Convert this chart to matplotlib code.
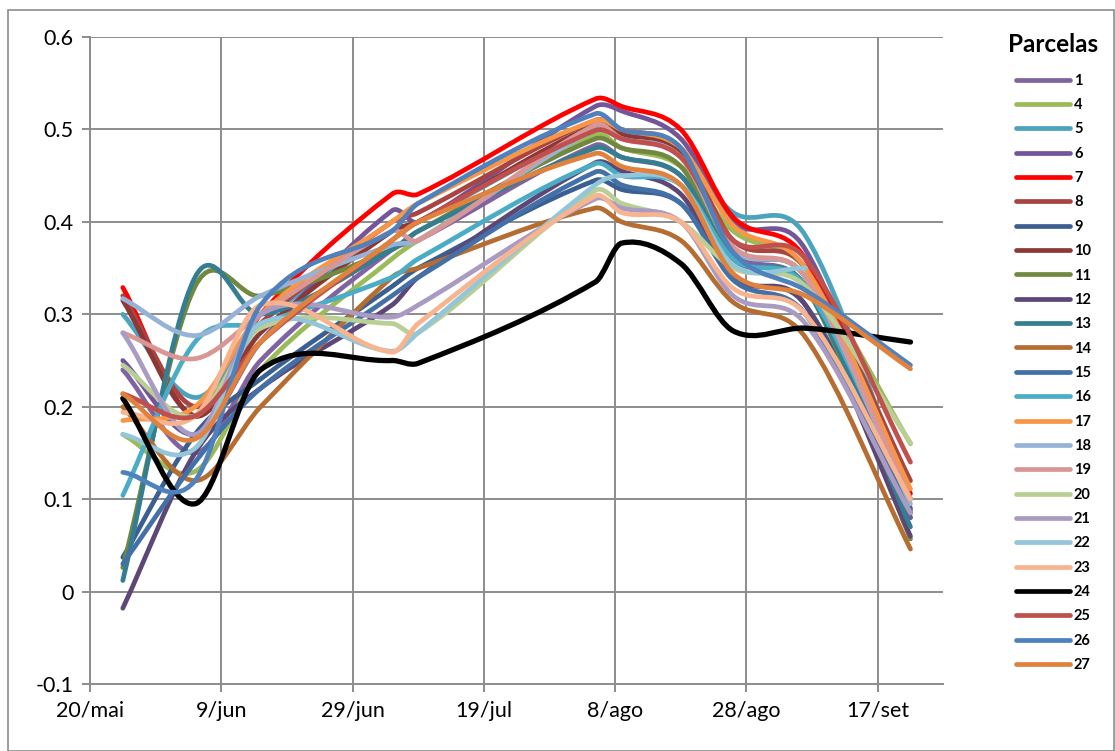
import numpy as np
import matplotlib
matplotlib.use('Agg')
import matplotlib.pyplot as plt
from matplotlib.path import Path
from matplotlib.patches import PathPatch, Rectangle
from matplotlib.lines import Line2D

plt.rcParams['font.family'] = ['Lato', 'DejaVu Sans']

# sample dates, as days after 20/mai
dates = ['25/mai', '5/jun', '15/jun', '5/jul', '9/jul', '5/ago', '9/ago',
         '18/ago', '26/ago', '6/set', '22/set']
days = [5, 16, 26, 46, 50, 77, 81, 90, 98, 109, 125]

tick_days = [0, 20, 40, 60, 80, 100, 120]
tick_labels = ['20/mai', '9/jun', '29/jun', '19/jul', '8/ago', '28/ago', '17/set']

parcelas = ['1', '4', '5', '6', '7', '8', '9', '10', '11', '12', '13', '14', '15',
            '16', '17', '18', '19', '20', '21', '22', '23', '24', '25', '26', '27']

colors = ['#8064A2', '#9BBB59', '#4BA3BE', '#73569A', '#FF0000', '#A84442',
          '#3C5F91', '#8C3836', '#71893F', '#5C4776', '#357D91', '#B66D31',
          '#4470A8', '#4BACC6', '#F79646', '#95B3D7', '#D99694', '#B9CF94',
          '#A99BC2', '#93C6D8', '#F8B48E', '#000000', '#C0504D', '#4F81BD',
          '#E0823D']

nan = np.nan
p1 = [0.240, 0.150, 0.250, 0.370, 0.380, 0.483, 0.470, 0.450, 0.365, 0.330, 0.080]
p4 = [0.170, 0.130, 0.240, 0.360, 0.380, 0.495, 0.480, 0.460, 0.390, 0.350, 0.160]
p5 = [0.300, 0.210, 0.290, 0.390, 0.400, 0.500, 0.490, 0.475, 0.410, 0.385, 0.100]
p6 = [0.250, 0.170, 0.270, 0.412, 0.400, 0.525, 0.520, 0.490, 0.400, 0.370, 0.080]
p7 = [0.329, 0.190, 0.300, 0.430, 0.430, 0.533, 0.525, 0.500, 0.405, 0.360, 0.106]
p8 = [0.320, 0.200, 0.290, 0.400, 0.410, 0.510, 0.500, 0.480, 0.380, 0.350, 0.120]
p9 = [0.037, 0.170, 0.230, 0.330, 0.350, 0.445, 0.435, 0.420, 0.340, 0.310, 0.085]
p10 = [0.315, 0.190, 0.280, 0.390, 0.400, 0.505, 0.495, 0.475, 0.370, 0.340, 0.090]
p11 = [0.026, 0.330, 0.320, 0.370, 0.390, 0.490, 0.480, 0.460, 0.360, 0.330, 0.057]
p12 = [-0.018, 0.150, 0.220, 0.310, 0.340, 0.464, 0.455, 0.430, 0.340, 0.310, 0.060]
p13 = [0.012, 0.340, 0.300, 0.370, 0.390, 0.480, 0.470, 0.450, 0.360, 0.330, 0.070]
p14 = [0.200, 0.120, 0.200, 0.340, 0.350, 0.415, 0.400, 0.380, 0.313, 0.275, 0.046]
p15 = [0.030, 0.140, 0.220, 0.320, 0.340, 0.454, 0.440, 0.420, 0.337, 0.300, 0.088]
p16 = [0.104, 0.270, 0.290, 0.340, 0.360, 0.463, 0.450, 0.440, 0.360, 0.330, 0.100]
p17 = [0.185, 0.200, 0.300, 0.400, 0.420, 0.510, 0.500, 0.480, 0.396, 0.350, 0.111]
p18 = [0.317, 0.277, 0.320, 0.375, 0.380, 0.500, 0.490, 0.470, 0.370, 0.340, 0.095]
p19 = [0.280, 0.252, 0.300, 0.390, 0.380, 0.505, 0.490, 0.470, 0.373, 0.340, 0.100]
p20 = [0.245, 0.190, 0.285, 0.290, 0.280, 0.434, 0.420, 0.400, 0.350, 0.330, 0.161]
p21 = [0.280, 0.170, 0.300, 0.297, 0.310, 0.425, 0.415, 0.400, 0.320, 0.290, 0.085]
p22 = [0.170, 0.155, 0.290, 0.260, 0.280, 0.440, 0.450, 0.440, 0.353, 0.350, nan]
p23 = [0.194, 0.190, 0.310, 0.259, 0.290, 0.428, 0.410, 0.400, 0.328, 0.300, 0.100]
p24 = [0.209, 0.095, 0.240, 0.250, 0.247, 0.335, 0.377, 0.355, 0.282, 0.285, 0.270]
p25 = [0.214, 0.190, 0.270, 0.380, 0.400, 0.499, 0.490, 0.470, 0.380, 0.360, 0.140]
p26 = [0.129, 0.120, 0.310, 0.390, 0.420, 0.517, 0.500, 0.480, 0.367, 0.326, 0.245]
p27 = [0.214, 0.165, 0.270, 0.380, 0.400, 0.474, 0.460, 0.440, 0.344, 0.320, 0.241]

series = [p1, p4, p5, p6, p7, p8, p9, p10, p11, p12, p13, p14, p15, p16, p17,
          p18, p19, p20, p21, p22, p23, p24, p25, p26, p27]


def smooth_path(xs, ys):
    # smoothed line like Excel: one cubic bezier between each pair of points
    pts = [(x, y) for x, y in zip(xs, ys) if not np.isnan(y)]
    n = len(pts)
    slopes = []
    for i in range(n):
        a = pts[max(i - 1, 0)]
        b = pts[min(i + 1, n - 1)]
        slopes.append((b[1] - a[1]) / (b[0] - a[0]))
    verts = [pts[0]]
    codes = [Path.MOVETO]
    for i in range(n - 1):
        (xa, ya), (xb, yb) = pts[i], pts[i + 1]
        h = (xb - xa) / 3
        verts += [(xa + h, ya + slopes[i] * h), (xb - h, yb - slopes[i + 1] * h), (xb, yb)]
        codes += [Path.CURVE4] * 3
    return Path(verts, codes)


fig = plt.figure(figsize=(11.15, 7.51), dpi=100)
ax = fig.add_axes([0.0807, 0.0892, 0.7653, 0.8615])

for vals, col in zip(series, colors):
    patch = PathPatch(smooth_path(days, vals), facecolor='none', edgecolor=col,
                      lw=3.4 if col != '#000000' else 3.8, capstyle='round',
                      joinstyle='round')
    ax.add_patch(patch)

ax.set_xlim(0, 130)
ax.set_ylim(-0.1, 0.6)
ax.set_xticks(tick_days)
ax.set_xticklabels(tick_labels)
ax.set_yticks(np.arange(-0.1, 0.61, 0.1))
ax.set_yticklabels(['-0.1', '0', '0.1', '0.2', '0.3', '0.4', '0.5', '0.6'])
ax.grid(True, color='#8C8C8C', lw=1.4)
ax.set_axisbelow(True)
for s in ['top', 'right']:
    ax.spines[s].set_visible(False)
for s in ['left', 'bottom']:
    ax.spines[s].set_color('#8C8C8C')
    ax.spines[s].set_linewidth(1.4)
ax.tick_params(axis='both', colors='#8C8C8C', length=6, width=1.4,
               labelsize=15.5, labelcolor='black', pad=6)

handles = [Line2D([0], [0], color=c, lw=3.4, solid_capstyle='round') for c in colors]
leg = fig.legend(handles, parcelas, loc='upper left', bbox_to_anchor=(0.8925, 0.974),
                 frameon=False, title='Parcelas', handlelength=3.7,
                 labelspacing=0.71, handletextpad=0.3,
                 prop={'size': 10.5, 'weight': 'bold'},
                 title_fontproperties={'size': 17.5, 'weight': 'bold'})
leg._legend_box.sep = 13

fig.patches.append(Rectangle((0.007, 0.0), 0.992, 0.987, transform=fig.transFigure,
                             fill=False, edgecolor='#8C8C8C', lw=1.2))

fig.savefig('out.png', dpi=100)
